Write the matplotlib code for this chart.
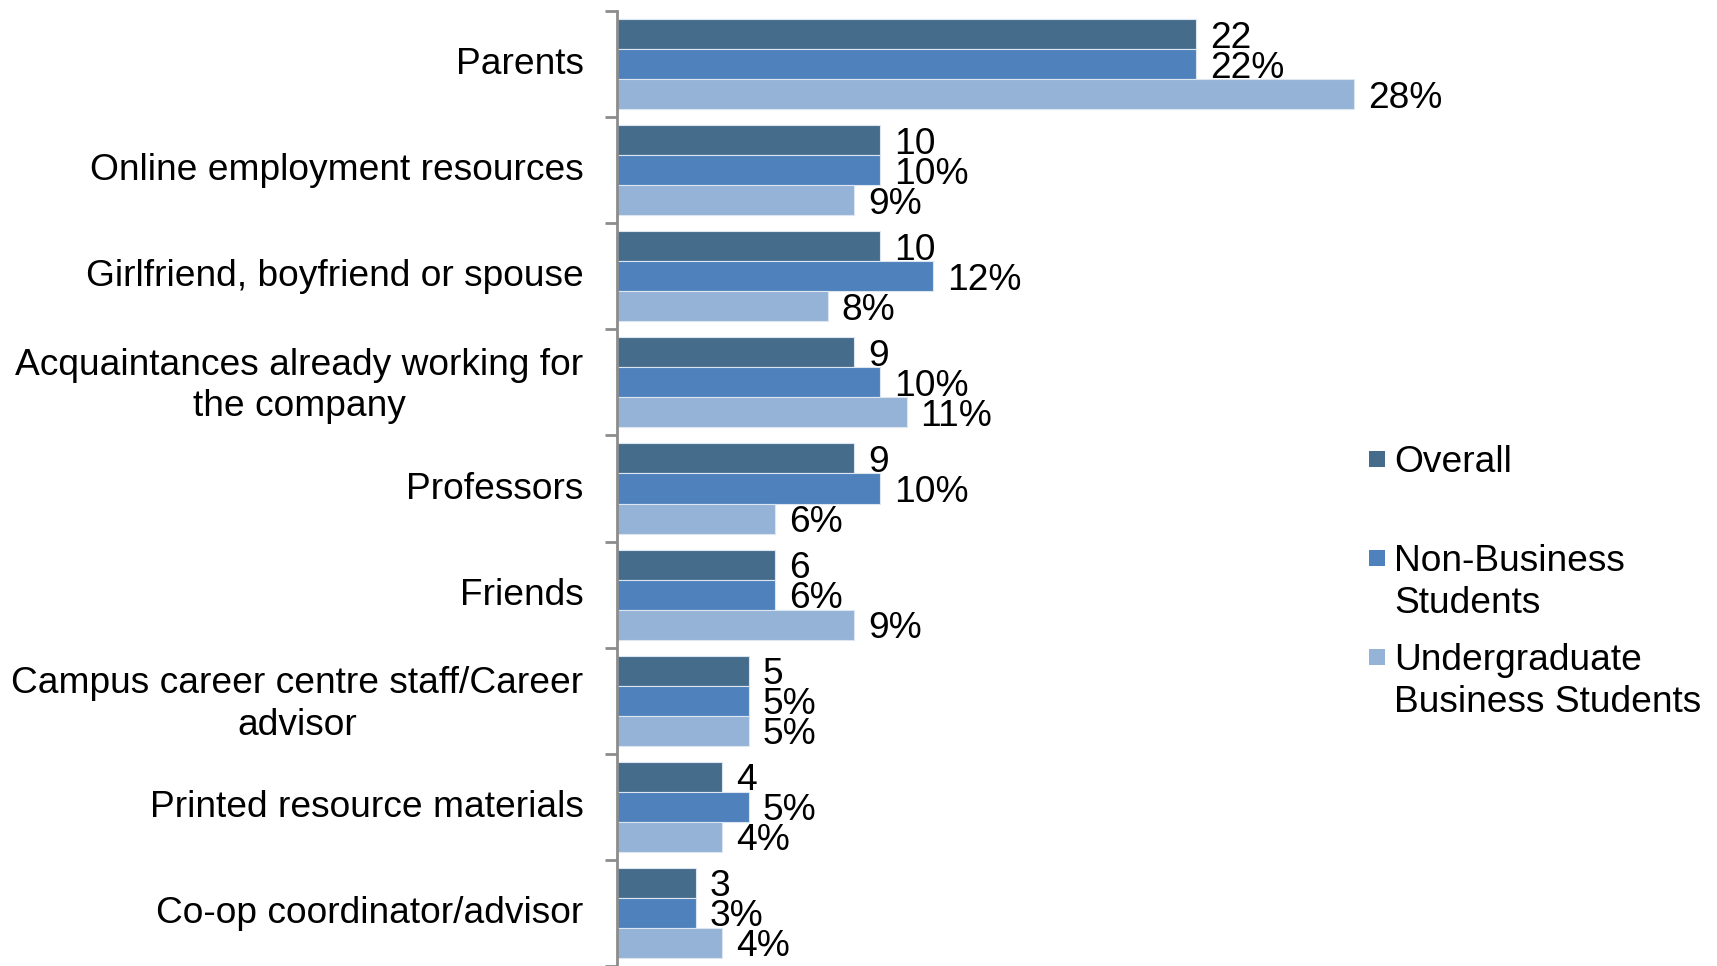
#!/usr/bin/env python3
# plot.py - who helps students find a job, grouped horizontal bars

import numpy as np
import matplotlib.pyplot as plt
import matplotlib.transforms as mtransforms
from matplotlib.patches import Rectangle

plt.rcParams["font.family"] = ["Liberation Sans", "DejaVu Sans"]

categories = [
    "Parents",
    "Online employment resources",
    "Girlfriend, boyfriend or spouse",
    "Acquaintances already working for\nthe company",
    "Professors",
    "Friends",
    "Campus career centre staff/Career\nadvisor",
    "Printed resource materials",
    "Co-op coordinator/advisor",
]
series_names = ["Overall", "Non-Business\nStudents", "Undergraduate\nBusiness Students"]
overall = [22, 10, 10, 9, 9, 6, 5, 4, 3]
non_business = [22, 10, 12, 10, 10, 6, 5, 5, 3]
undergrad_business = [28, 9, 8, 11, 6, 9, 5, 4, 4]

colors = ["#466C8C", "#4F81BD", "#95B3D7"]
label_fmt = ["{:d}", "{:d}%", "{:d}%"]
FS = 26.7
LS = 1.24          # line spacing for two-line texts
LINE_PX = 41.7     # resulting distance between lines, pixels


def plot(fig, ax):
    y = np.arange(len(categories))
    bar_h = 0.283
    offsets = [-bar_h, 0, bar_h]
    data = [overall, non_business, undergrad_business]

    for vals, off, col, fmt in zip(data, offsets, colors, label_fmt):
        bars = ax.barh(y + off, vals, height=bar_h, color=col,
                       edgecolor="#DCE6F0", linewidth=0.8)
        for b, v in zip(bars, vals):
            ax.annotate(fmt.format(v), (b.get_width(), b.get_y() + b.get_height() / 2),
                        xytext=(10, 0), textcoords="offset points",
                        va="center_baseline", ha="left", fontsize=FS)

    ax.set_xlim(0, 30)
    ax.set_ylim(len(categories) - 0.5, -0.5)

    # category labels, no tick marks at the centres
    ax.set_yticks(y)
    ax.set_yticklabels(categories, fontsize=FS, multialignment="center")
    ax.tick_params(axis="y", which="major", length=0, pad=24)
    nudge = mtransforms.ScaledTranslation(0, 3.5 / 100, fig.dpi_scale_trans)
    for t in ax.get_yticklabels():
        t.set_linespacing(LS)
        t.set_transform(t.get_transform() + nudge)
    # small marks between the groups
    ax.set_yticks(np.arange(-0.5, len(categories), 1.0), minor=True)
    ax.tick_params(axis="y", which="minor", length=9, width=2, color="#8C8C8C")

    ax.set_xticks([])
    for side in ["top", "right", "bottom"]:
        ax.spines[side].set_visible(False)
    ax.spines["left"].set_color("#8C8C8C")
    ax.spines["left"].set_linewidth(2)

    # legend: square key next to the first line of each name
    W, H = fig.get_size_inches() * fig.dpi
    key = 16
    centers = [459, 558, 657]
    for name, col, cy in zip(series_names, colors, centers):
        fig.patches.append(Rectangle((1369 / W, 1 - (cy + key / 2) / H), key / W, key / H,
                                     facecolor=col, transform=fig.transFigure, figure=fig))
        # va="baseline" sits on the last line, so push down for extra lines
        base = cy + 13 + name.count("\n") * LINE_PX
        fig.text(1394 / W, 1 - base / H, name, fontsize=FS, va="baseline", ha="left",
                 linespacing=LS)


def main():
    fig = plt.figure(figsize=(17.17, 9.66), dpi=100)
    ax = fig.add_axes([0.3593, 0.0, 0.46, 0.9886])
    plot(fig, ax)
    fig.savefig("out.png", dpi=100)


if __name__ == "__main__":
    main()
